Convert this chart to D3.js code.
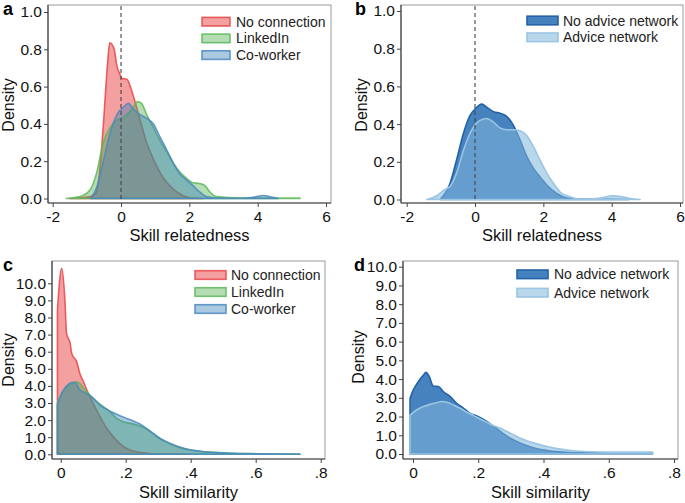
<!DOCTYPE html>
<html><head><meta charset="utf-8">
<script src="https://cdn.jsdelivr.net/npm/d3@7"></script>
<style>
html,body{margin:0;padding:0;background:#fff;}
svg{display:block;font-family:"Liberation Sans",Arial,sans-serif;}
</style></head>
<body><svg id="chart" width="685" height="503"></svg>
<script>
// ---------- DATA ----------
const relTicks = [-2, 0, 2, 4, 6];
const relTickLabels = ["-2", "0", "2", "4", "6"];
const relDensTicks = [0, 0.2, 0.4, 0.6, 0.8, 1.0];
const simTicks = [0, 0.2, 0.4, 0.6, 0.8];
const simTickLabels = ["0", ".2", ".4", ".6", ".8"];
const simDensTicks = [0,1,2,3,4,5,6,7,8,9,10];

const legendA = ["No connection", "LinkedIn", "Co-worker"];
const legendB = ["No advice network", "Advice network"];

// Panel a: skill relatedness density
const aNoConnection = [[-1.5,0],[-1.2,0.003],[-0.9,0.01],[-0.75,0.025],[-0.66,0.09],[-0.58,0.24],[-0.5,0.44],[-0.4,0.71],[-0.33,0.835],[-0.26,0.825],[-0.2,0.8],[-0.12,0.71],[-0.04,0.67],[0.02,0.645],[0.17,0.64],[0.36,0.55],[0.56,0.42],[0.75,0.3],[0.95,0.21],[1.24,0.11],[1.53,0.05],[1.82,0.015],[2.1,0.002],[2.4,0]];
const aLinkedIn = [[-1.6,0],[-1.2,0.01],[-0.91,0.045],[-0.71,0.14],[-0.52,0.3],[-0.32,0.38],[-0.12,0.42],[0.0,0.43],[0.17,0.45],[0.36,0.49],[0.48,0.52],[0.6,0.51],[0.75,0.45],[0.95,0.38],[1.14,0.31],[1.34,0.25],[1.53,0.19],[1.73,0.14],[1.92,0.108],[2.1,0.085],[2.3,0.08],[2.45,0.07],[2.6,0.035],[2.8,0.01],[3.3,0.004],[4.0,0.003],[5.24,0.003]];
const aCoworker = [[-0.9,0],[-0.71,0.06],[-0.52,0.2],[-0.32,0.35],[-0.12,0.45],[0.07,0.49],[0.22,0.51],[0.36,0.48],[0.56,0.45],[0.75,0.43],[0.95,0.4],[1.14,0.33],[1.34,0.26],[1.53,0.19],[1.73,0.13],[1.92,0.1],[2.1,0.07],[2.3,0.035],[2.5,0.01],[2.8,0.002],[3.5,0.001],[3.9,0.008],[4.17,0.016],[4.45,0.006],[4.6,0]];

// Panel b
const bNoAdvice = [[-1.02,0],[-0.73,0.086],[-0.54,0.21],[-0.34,0.35],[-0.15,0.445],[0,0.48],[0.2,0.506],[0.34,0.49],[0.54,0.466],[0.73,0.457],[0.93,0.44],[1.12,0.395],[1.32,0.315],[1.51,0.23],[1.71,0.165],[1.9,0.12],[2.1,0.077],[2.39,0.032],[2.69,0.008],[3.08,0.002],[3.5,0.001],[4.0,0.001],[4.5,0]];
const bAdvice = [[-1.41,0],[-1.12,0.02],[-0.93,0.047],[-0.73,0.07],[-0.54,0.14],[-0.34,0.26],[-0.15,0.35],[0,0.395],[0.15,0.42],[0.34,0.43],[0.54,0.41],[0.73,0.38],[0.93,0.37],[1.12,0.37],[1.32,0.365],[1.51,0.34],[1.71,0.28],[1.9,0.21],[2.1,0.14],[2.3,0.085],[2.49,0.04],[2.78,0.015],[3.08,0.003],[3.4,0.003],[3.66,0.008],[4.04,0.02],[4.3,0.015],[4.53,0.005],[4.83,0]];

// Panel c: skill similarity density
const cNoConnection = [[-0.01,8.44],[0.003,10.88],[0.013,9.0],[0.018,7.07],[0.029,6.5],[0.034,5.9],[0.049,5.42],[0.059,4.73],[0.07,4.24],[0.085,3.56],[0.1,2.97],[0.121,2.19],[0.142,1.51],[0.162,1.02],[0.182,0.63],[0.203,0.34],[0.223,0.19],[0.254,0.09],[0.285,0.03],[0.33,0.01],[0.4,0]];
const cLinkedIn = [[-0.01,2.98],[0.003,3.56],[0.018,3.95],[0.034,4.15],[0.049,4.24],[0.059,4.15],[0.07,3.86],[0.09,3.47],[0.111,3.08],[0.131,2.79],[0.152,2.5],[0.172,2.1],[0.192,1.91],[0.213,1.81],[0.233,1.72],[0.254,1.58],[0.275,1.33],[0.295,1.04],[0.316,0.8],[0.336,0.61],[0.367,0.39],[0.398,0.25],[0.428,0.18],[0.469,0.12],[0.53,0.06],[0.59,0.04],[0.65,0.02],[0.736,0.01]];
const cCoworker = [[-0.01,2.88],[0.003,3.56],[0.018,3.99],[0.034,4.2],[0.044,4.2],[0.059,3.76],[0.08,3.56],[0.1,3.27],[0.121,2.88],[0.142,2.63],[0.162,2.43],[0.182,2.26],[0.203,2.1],[0.223,1.95],[0.244,1.77],[0.264,1.52],[0.285,1.23],[0.305,0.94],[0.326,0.74],[0.357,0.49],[0.387,0.31],[0.428,0.18],[0.479,0.1],[0.53,0.06],[0.61,0.03],[0.736,0.015]];

// Panel d
const dNoAdvice = [[-0.009,2.97],[0.001,3.42],[0.016,3.86],[0.032,4.21],[0.04,4.36],[0.05,4.13],[0.062,3.63],[0.078,3.6],[0.093,3.33],[0.114,3.06],[0.134,2.71],[0.155,2.44],[0.175,2.17],[0.196,2.03],[0.216,1.85],[0.237,1.6],[0.258,1.34],[0.278,1.07],[0.298,0.84],[0.319,0.66],[0.35,0.44],[0.38,0.28],[0.41,0.19],[0.45,0.12],[0.51,0.07],[0.6,0.07],[0.734,0.06]];
const dAdvice = [[-0.009,2.08],[0.011,2.35],[0.032,2.53],[0.052,2.65],[0.073,2.74],[0.088,2.8],[0.104,2.76],[0.124,2.62],[0.145,2.44],[0.165,2.23],[0.186,2.05],[0.206,1.87],[0.227,1.69],[0.247,1.51],[0.268,1.37],[0.288,1.2],[0.309,1.02],[0.329,0.84],[0.35,0.7],[0.38,0.54],[0.411,0.4],[0.452,0.26],[0.493,0.17],[0.545,0.12],[0.596,0.1],[0.647,0.1],[0.734,0.1]];

// ---------- STYLES ----------
const redS = {fill:"#e41a1c", fo:0.42, stroke:"#e8474a", so:0.85};
const greenS = {fill:"#4daf4a", fo:0.42, stroke:"#5cb85a", so:0.85};
const blueS = {fill:"#377eb8", fo:0.42, stroke:"#4a88c0", so:0.85};
const darkS = {fill:"#3174b7", fo:0.9, stroke:"#2462a8", so:1};
const lightS = {fill:"#7fb6da", fo:0.55, stroke:"#9ac5e3", so:1};

const svg = d3.select("#chart");
const FONT = '"Liberation Sans", Arial, sans-serif';

function panel(cfg){
  const g = svg.append("g");
  const x = d3.scaleLinear().domain(cfg.xDom).range(cfg.xRange);
  const y = d3.scaleLinear().domain(cfg.yDom).range(cfg.yRange);
  const f = cfg.frame;
  g.append("rect").attr("x", f.l).attr("y", f.t).attr("width", f.r - f.l).attr("height", f.b - f.t)
    .attr("fill", "#fff").attr("stroke", "#9a9a9a").attr("stroke-width", 1);
  const cid = "clip" + cfg.letter;
  svg.append("clipPath").attr("id", cid).append("rect")
    .attr("x", f.l).attr("y", f.t).attr("width", f.r - f.l).attr("height", f.b - f.t);
  const plot = g.append("g").attr("clip-path", `url(#${cid})`);
  const area = d3.area().x(d => x(d[0])).y0(y(0)).y1(d => y(d[1])).curve(d3.curveMonotoneX);
  cfg.series.forEach(s => {
    plot.append("path").attr("d", area(s.data))
      .attr("fill", s.style.fill).attr("fill-opacity", s.style.fo)
      .attr("stroke", s.style.stroke).attr("stroke-opacity", s.style.so)
      .attr("stroke-width", 1.6).attr("stroke-linejoin", "round");
  });
  if (cfg.zeroLine) {
    plot.append("line").attr("x1", x(0)).attr("x2", x(0)).attr("y1", f.t + 1).attr("y2", y(0) + 1)
      .attr("stroke", "#444").attr("stroke-width", 1.1).attr("stroke-dasharray", "4,3");
  }
  g.append("line").attr("x1", f.l).attr("x2", f.l).attr("y1", f.t).attr("y2", f.b).attr("stroke", "#444").attr("stroke-width", 1.2);
  g.append("line").attr("x1", f.l).attr("x2", f.r).attr("y1", f.b).attr("y2", f.b).attr("stroke", "#444").attr("stroke-width", 1.2);

  const xAxis = d3.axisBottom(x).tickValues(cfg.xTicks).tickFormat((d,i) => cfg.xLabels[i]).tickSize(4).tickPadding(4);
  const gx = g.append("g").attr("transform", `translate(0,${f.b})`).call(xAxis);
  gx.select(".domain").remove();
  gx.selectAll("line").attr("stroke", "#444");
  gx.selectAll("text").attr("font-size", 15.5).attr("font-family", FONT).attr("fill", "#111");

  const yAxis = d3.axisLeft(y).tickValues(cfg.yTicks).tickFormat(d3.format(".1f")).tickSize(4).tickPadding(2);
  const gy = g.append("g").attr("transform", `translate(${f.l},0)`).call(yAxis);
  gy.select(".domain").remove();
  gy.selectAll("line").attr("stroke", "#444");
  gy.selectAll("text").attr("font-size", 15.5).attr("font-family", FONT).attr("fill", "#111");

  g.append("text").attr("x", (f.l + f.r) / 2).attr("y", cfg.xTitleY).attr("text-anchor", "middle")
    .attr("font-size", 16.5).attr("font-family", FONT).attr("fill", "#111").text(cfg.xTitle);
  g.append("text").attr("transform", `translate(${cfg.yTitleX},${cfg.yTitleCY}) rotate(-90)`)
    .attr("text-anchor", "middle").attr("font-size", 16).attr("font-family", FONT).attr("fill", "#111").text("Density");
  g.append("text").attr("x", cfg.letterPos[0]).attr("y", cfg.letterPos[1])
    .attr("font-size", 18).attr("font-weight", "bold").attr("font-family", FONT).attr("fill", "#000").text(cfg.letter);

  const L = cfg.legend;
  cfg.series.forEach((s, i) => {
    const cy = L.y0 + i * L.dy;
    g.append("rect").attr("x", L.x).attr("y", cy - 4.3).attr("width", L.w).attr("height", 8.6)
      .attr("fill", s.style.fill).attr("fill-opacity", s.style.fo)
      .attr("stroke", s.style.stroke).attr("stroke-opacity", s.style.so).attr("stroke-width", 1.6);
    g.append("text").attr("x", L.tx).attr("y", cy + 5).attr("font-size", 14).attr("font-family", FONT)
      .attr("fill", "#222").text(cfg.legendNames[i]);
  });
}

panel({
  letter: "a", letterPos: [3, 15],
  frame: {l: 48, r: 331, t: 5, b: 203},
  xDom: [-2, 6], xRange: [52.7, 326], yDom: [0, 1], yRange: [198.5, 12],
  xTicks: relTicks, xLabels: relTickLabels, yTicks: relDensTicks,
  xTitle: "Skill relatedness", xTitleY: 241, yTitleX: 14, yTitleCY: 105,
  zeroLine: true,
  series: [{data: aNoConnection, style: redS}, {data: aLinkedIn, style: greenS}, {data: aCoworker, style: blueS}],
  legendNames: legendA,
  legend: {x: 202, w: 28, tx: 236, y0: 21.7, dy: 16.7}
});
panel({
  letter: "b", letterPos: [355, 15],
  frame: {l: 401, r: 683, t: 5, b: 203},
  xDom: [-2, 6], xRange: [406.7, 680], yDom: [0, 1], yRange: [199.5, 11],
  xTicks: relTicks, xLabels: relTickLabels, yTicks: relDensTicks,
  xTitle: "Skill relatedness", xTitleY: 241, yTitleX: 367, yTitleCY: 105,
  zeroLine: true,
  series: [{data: bNoAdvice, style: darkS}, {data: bAdvice, style: lightS}],
  legendNames: legendB,
  legend: {x: 527, w: 31, tx: 563, y0: 20.5, dy: 16.8}
});
panel({
  letter: "c", letterPos: [3, 270.5],
  frame: {l: 52, r: 325, t: 261, b: 459},
  xDom: [0, 0.8], xRange: [60.7, 320.7], yDom: [0, 10], yRange: [454.3, 283.3],
  xTicks: simTicks, xLabels: simTickLabels, yTicks: simDensTicks,
  xTitle: "Skill similarity", xTitleY: 498, yTitleX: 14, yTitleCY: 360,
  zeroLine: false,
  series: [{data: cNoConnection, style: redS}, {data: cLinkedIn, style: greenS}, {data: cCoworker, style: blueS}],
  legendNames: legendA,
  legend: {x: 195, w: 31, tx: 231, y0: 275, dy: 17}
});
panel({
  letter: "d", letterPos: [354, 270.5],
  frame: {l: 403, r: 678, t: 261, b: 459},
  xDom: [0, 0.8], xRange: [413, 674], yDom: [0, 10], yRange: [454, 266.7],
  xTicks: simTicks, xLabels: simTickLabels, yTicks: simDensTicks,
  xTitle: "Skill similarity", xTitleY: 498, yTitleX: 364, yTitleCY: 357,
  zeroLine: false,
  series: [{data: dNoAdvice, style: darkS}, {data: dAdvice, style: lightS}],
  legendNames: legendB,
  legend: {x: 517, w: 31, tx: 554, y0: 274.3, dy: 18.4}
});
</script>
</body></html>
